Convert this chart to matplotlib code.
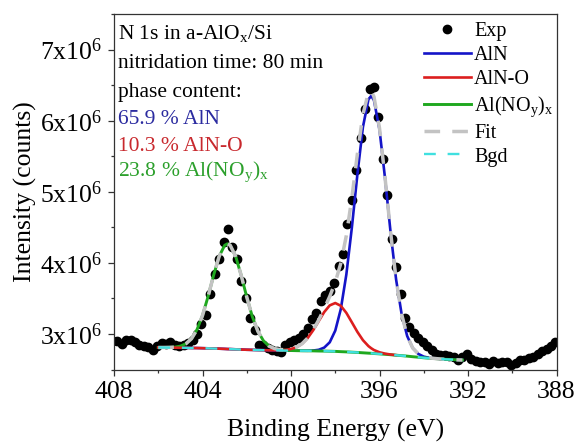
import matplotlib
matplotlib.use('Agg')
import matplotlib.pyplot as plt
import numpy as np
from matplotlib.ticker import MultipleLocator

plt.rcParams['font.family'] = ['Liberation Serif', 'DejaVu Serif']
plt.rcParams['mathtext.fontset'] = 'custom'
plt.rcParams['mathtext.rm'] = 'Liberation Serif'
plt.rcParams['mathtext.it'] = 'Liberation Serif:italic'

# ---------------- data (intensity in units of 1e6 counts) ----------------
exp_energy = [408.05, 407.85, 407.65, 407.45, 407.25, 407.05, 406.85, 406.65, 406.45, 406.25,
              406.05, 405.85, 405.65, 405.45, 405.25, 405.05, 404.85, 404.65, 404.45, 404.25,
              404.05, 403.85, 403.65, 403.45, 403.25, 403.05, 402.85, 402.65, 402.45, 402.25,
              402.05, 401.85, 401.65, 401.45, 401.25, 401.05, 400.85, 400.65, 400.45, 400.25,
              400.05, 399.85, 399.65, 399.45, 399.25, 399.05, 398.85, 398.65, 398.45, 398.25,
              398.05, 397.85, 397.65, 397.45, 397.25, 397.05, 396.85, 396.65, 396.45, 396.25,
              396.05, 395.85, 395.65, 395.45, 395.25, 395.05, 394.85, 394.65, 394.45, 394.25,
              394.05, 393.85, 393.65, 393.45, 393.25, 393.05, 392.85, 392.65, 392.45, 392.25,
              392.05, 391.85, 391.65, 391.45, 391.25, 391.05, 390.85, 390.65, 390.45, 390.25,
              390.05, 389.85, 389.65, 389.45, 389.25, 389.05, 388.85, 388.65, 388.45, 388.25,
              388.05]
exp_counts = [2.90, 2.90, 2.86, 2.92, 2.92, 2.88, 2.85, 2.83, 2.81, 2.78,
              2.83, 2.87, 2.86, 2.89, 2.85, 2.83, 2.85, 2.87, 2.91, 3.00,
              3.14, 3.26, 3.56, 3.84, 4.05, 4.29, 4.47, 4.22, 4.06, 3.75,
              3.50, 3.22, 3.05, 2.84, 2.84, 2.80, 2.78, 2.76, 2.74, 2.84,
              2.88, 2.91, 2.95, 3.00, 3.09, 3.21, 3.30, 3.47, 3.55, 3.60,
              3.72, 3.96, 4.13, 4.55, 4.88, 5.30, 5.75, 6.17, 6.45, 6.47,
              6.05, 5.46, 4.95, 4.34, 3.94, 3.56, 3.23, 3.10, 3.01, 2.95,
              2.89, 2.83, 2.77, 2.72, 2.70, 2.70, 2.69, 2.67, 2.63, 2.67,
              2.72, 2.65, 2.62, 2.60, 2.60, 2.58, 2.62, 2.59, 2.61, 2.60,
              2.57, 2.59, 2.63, 2.64, 2.66, 2.68, 2.72, 2.76, 2.79, 2.83,
              2.88]

fit_energy = [406.00, 405.75, 405.50, 405.25, 405.00, 404.75, 404.50, 404.25, 404.00, 403.75,
              403.50, 403.25, 403.00, 402.875, 402.75, 402.50, 402.25, 402.00, 401.75, 401.50,
              401.25, 401.00, 400.75, 400.50, 400.25, 400.00, 399.75, 399.50, 399.25, 399.00,
              398.75, 398.50, 398.25, 398.00, 397.75, 397.50, 397.25, 397.00, 396.75, 396.50,
              396.375, 396.25, 396.00, 395.75, 395.50, 395.25, 395.00, 394.75, 394.50, 394.25,
              394.00, 393.75, 393.50, 393.25, 393.00, 392.75, 392.50, 392.25]
bgd = [2.810, 2.809, 2.808, 2.807, 2.806, 2.805, 2.803, 2.802, 2.800, 2.798,
       2.795, 2.793, 2.790, 2.788, 2.787, 2.784, 2.781, 2.778, 2.776, 2.774,
       2.772, 2.770, 2.769, 2.768, 2.767, 2.766, 2.765, 2.764, 2.763, 2.762,
       2.760, 2.759, 2.757, 2.755, 2.751, 2.748, 2.744, 2.740, 2.735, 2.730,
       2.728, 2.725, 2.720, 2.714, 2.708, 2.701, 2.695, 2.688, 2.680, 2.673,
       2.665, 2.659, 2.654, 2.648, 2.643, 2.640, 2.636, 2.633]
aln_peak = [0, 0, 0, 0, 0, 0, 0, 0, 0, 0,
            0, 0, 0, 0, 0, 0, 0, 0, 0, 0,
            0, 0, 0, 0, 0, 0, 0, 0.000, 0.001, 0.005,
            0.017, 0.049, 0.126, 0.292, 0.598, 1.087, 1.752, 2.504, 3.175, 3.570,
            3.620, 3.562, 3.152, 2.474, 1.722, 1.064, 0.583, 0.283, 0.122, 0.047,
            0.016, 0.005, 0.001, 0, 0, 0, 0, 0]
alno_peak = [0, 0, 0, 0, 0, 0, 0, 0, 0, 0,
             0, 0, 0, 0, 0, 0, 0, 0, 0, 0,
             0, 0.000, 0.001, 0.003, 0.009, 0.022, 0.049, 0.099, 0.178, 0.289,
             0.420, 0.549, 0.645, 0.680, 0.645, 0.549, 0.420, 0.289, 0.178, 0.099,
             0.071, 0.049, 0.022, 0.009, 0.003, 0.001, 0, 0, 0, 0,
             0, 0, 0, 0, 0, 0, 0, 0]
nox_peak = [0.000, 0.001, 0.003, 0.008, 0.023, 0.058, 0.130, 0.259, 0.460, 0.728,
            1.029, 1.297, 1.457, 1.480, 1.461, 1.306, 1.041, 0.740, 0.469, 0.265,
            0.134, 0.060, 0.024, 0.009, 0.003, 0.001, 0, 0, 0, 0,
            0, 0, 0, 0, 0, 0, 0, 0, 0, 0,
            0, 0, 0, 0, 0, 0, 0, 0, 0, 0,
            0, 0, 0, 0, 0, 0, 0, 0]
fit_total = [2.810, 2.810, 2.811, 2.815, 2.829, 2.863, 2.933, 3.061, 3.260, 3.526,
             3.824, 4.090, 4.247, 4.268, 4.248, 4.090, 3.822, 3.518, 3.245, 3.039,
             2.906, 2.830, 2.794, 2.780, 2.779, 2.789, 2.814, 2.863, 2.942, 3.056,
             3.197, 3.357, 3.528, 3.727, 3.994, 4.384, 4.916, 5.533, 6.088, 6.399,
             6.419, 6.336, 5.894, 5.197, 4.433, 3.766, 3.278, 2.971, 2.802, 2.720,
             2.681, 2.664, 2.655, 2.648, 2.643, 2.640, 2.636, 2.633]

x_ticks = [408, 404, 400, 396, 392, 388]
y_ticks = [3, 4, 5, 6, 7]
y_ticklabels = [r'3x10$^{6}$', r'4x10$^{6}$', r'5x10$^{6}$', r'6x10$^{6}$', r'7x10$^{6}$']
phase_labels = ['65.9 % AlN', '10.3 % AlN-O', r'23.8 % Al(NO$_{\mathregular{y}}$)$_{\mathregular{x}}$']

# ---------------- figure ----------------
C_BLUE = '#1414c8'
C_RED = '#dc1e1e'
C_GREEN = '#1fa81f'
C_GRAY = '#c3c3c3'
C_CYAN = '#40e0e0'

fig = plt.figure(figsize=(5.8, 4.48), dpi=100)
ax = fig.add_axes([0.1966, 0.1752, 0.7629, 0.7935])

fe = np.array(fit_energy)
bg = np.array(bgd)

ax.plot(exp_energy, exp_counts, 'o', color='black', ms=6.0, zorder=1, label='Exp')
ax.plot(fe, bg + np.array(aln_peak), color=C_BLUE, lw=1.9, zorder=2, label='AlN')
ax.plot(fe, bg + np.array(nox_peak), color=C_GREEN, lw=2.1, zorder=3,
        label=r'Al(NO$_{\mathregular{y}}$)$_{\mathregular{x}}$')
ax.plot(fe[:46], (bg + np.array(alno_peak))[:46], color=C_RED, lw=1.9, zorder=4, label='AlN-O')
ax.plot(fe, fit_total, color=C_GRAY, lw=2.5, ls=(0, (4.5, 3.5)), zorder=5, label='Fit')
ax.plot(fe, bg, color=C_CYAN, lw=1.7, ls=(0, (5, 5)), zorder=6, label='Bgd')

ax.set_xlim(408, 388)
ax.set_ylim(2.5, 7.5)
ax.set_xticks(x_ticks)
ax.set_xticklabels([str(t) for t in x_ticks])
ax.set_yticks(y_ticks)
ax.set_yticklabels(y_ticklabels)
ax.xaxis.set_minor_locator(MultipleLocator(2))
ax.yaxis.set_minor_locator(MultipleLocator(0.5))
ax.tick_params(which='both', direction='out', top=False, right=False,
               labelsize=18.5, width=0.9, color='#333333')
ax.tick_params(which='major', length=4.5, pad=4)
ax.tick_params(which='minor', length=2.5)
for s in ax.spines.values():
    s.set_linewidth(0.9)
    s.set_color('#333333')

ax.set_xlabel('Binding Energy (eV)', fontsize=18.5, labelpad=11)
ax.set_ylabel('Intensity (counts)', fontsize=18.5, labelpad=2)

# legend
handles, labels = ax.get_legend_handles_labels()
order = ['Exp', 'AlN', 'AlN-O', r'Al(NO$_{\mathregular{y}}$)$_{\mathregular{x}}$', 'Fit', 'Bgd']
hmap = dict(zip(labels, handles))
leg = ax.legend([hmap[k] for k in order], order, loc='upper right',
                bbox_to_anchor=(1.0, 0.985), frameon=False, fontsize=14.5,
                handlelength=2.35, handletextpad=0.15, labelspacing=0.24,
                borderaxespad=0.0, borderpad=0.15)

# annotation text
tx = 118 / 580
lines = [('N 1s in a-AlO$_{\\mathregular{x}}$/Si', 'black', 33),
         ('nitridation time: 80 min', 'black', 64),
         ('phase content:', 'black', 92),
         (phase_labels[0], '#2b2ba0', 120),
         (phase_labels[1], '#c8282d', 146),
         (phase_labels[2], '#2ca02c', 172)]
for txt, col, ypx in lines:
    fig.text(tx, 1 - ypx / 448, txt, color=col, fontsize=15.5, va='center', ha='left')

fig.savefig('out.png', dpi=100)
